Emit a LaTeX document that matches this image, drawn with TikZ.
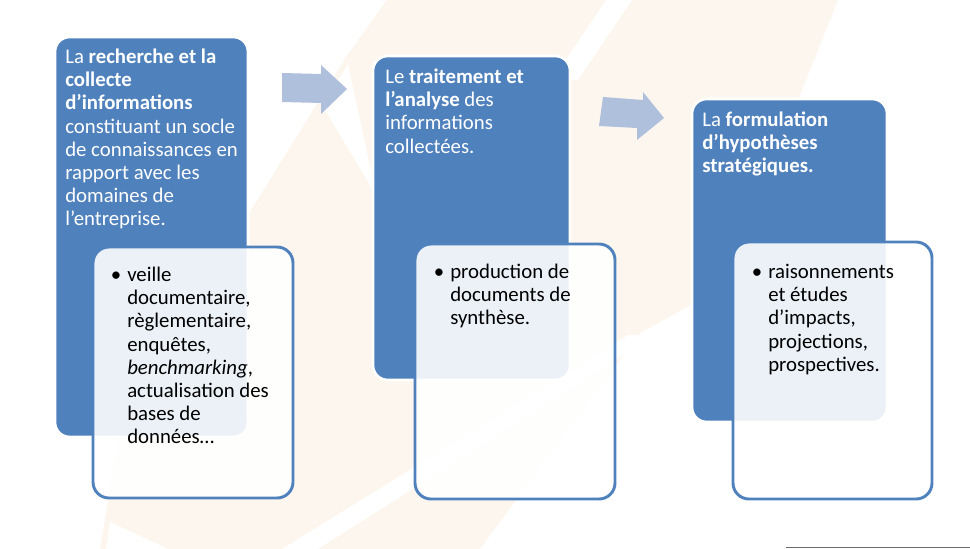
\documentclass[tikz,border=0pt]{standalone}
\usepackage{fontspec}
\setmainfont{Carlito}
\usetikzlibrary{positioning}

\definecolor{boxblue}{RGB}{79,129,189}
\definecolor{arrowblue}{RGB}{175,192,221}
\definecolor{cream}{RGB}{253,246,238}
\definecolor{linegray}{RGB}{110,110,110}

\tikzset{
  bluebox/.style={fill=boxblue, draw=white, line width=2pt, rounded corners=11pt},
  whitebox/.style={fill=white, fill opacity=0.89, draw=boxblue, line width=2.2pt, rounded corners=12pt},
  headtext/.style={anchor=north west, inner sep=0pt, align=left, text=white, font=\fontsize{15.6}{17.4}\selectfont},
  listtext/.style={anchor=north west, inner sep=0pt, align=left, text=black, font=\fontsize{15.6}{17.4}\selectfont},
  blockarrow/.style={fill=arrowblue},
}
\newcommand{\puce}{\llap{\textbullet\hspace{4.5pt}}}

\begin{document}
\begin{tikzpicture}[x=0.75pt,y=-0.75pt]
\useasboundingbox (0,0) rectangle (970,549);

%% 背景
\fill[cream] (100,549) --(125,400) --(253,207) --(346,57) --(387,0) --(838,0) --(800,95) --(700,300) --(640,333) --(480,549) --cycle;
\fill[white] (606,0) --(632,0) --(578,80) --(552,80) --cycle;
\fill[white] (322,105) --(348,64) --(376,195) --cycle;
\fill[white] (628,335) --(655,335) --(318,549) --(282,549) --cycle;
\fill[white] (110,522) --(168,549) --(106,549) --cycle;

%% 箱
\draw[bluebox] (55,37) rectangle (248,437);
\draw[bluebox] (373,56) rectangle (570,380);
\draw[bluebox] (692,99) rectangle (887,422);

\draw[whitebox] (93,247) rectangle (293,498);
\draw[whitebox] (415,244) rectangle (615,499);
\draw[whitebox] (733,242) rectangle (932,499);

%% 矢印
\fill[blockarrow] (282,73) --(321,74) --(321,65) --(347,89) --(321,114) --(321,103) --(282,102) --cycle;
\fill[blockarrow] (603,97) --(643,100) --(643,92) --(664,118) --(637,140) --(637,128) --(599,126) --cycle;

%% 文字
\node[headtext] (t1) at (65,47) {\strut La \textbf{recherche et la}\\ \textbf{collecte}\\ \textbf{d’informations}\\ constituant un socle\\ de connaissances en\\ rapport avec les\\ domaines de\\ l’entreprise.};
\node[headtext] (t2) at (385,67) {\strut Le \textbf{traitement et}\\ \textbf{l’analyse} des\\ informations\\ collectées.};
\node[headtext] (t3) at (702,110) {\strut La \textbf{formulation}\\ \textbf{d’hypothèses}\\ \textbf{stratégiques.}};

\node[listtext] (l1) at (127,265) {\strut\puce veille\\ documentaire,\\ règlementaire,\\ enquêtes,\\ \textit{benchmarking},\\ actualisation des\\ bases de\\ données…};
\node[listtext] (l2) at (450,262) {\strut\puce production de\\ documents de\\ synthèse.};
\node[listtext] (l3) at (768,262) {\strut\puce raisonnements\\ et études\\ d’impacts,\\ projections,\\ prospectives.};

%% 線
\draw[linegray, line width=0.9pt] (786,547.6) --(970,547.6);

\end{tikzpicture}
\end{document}
